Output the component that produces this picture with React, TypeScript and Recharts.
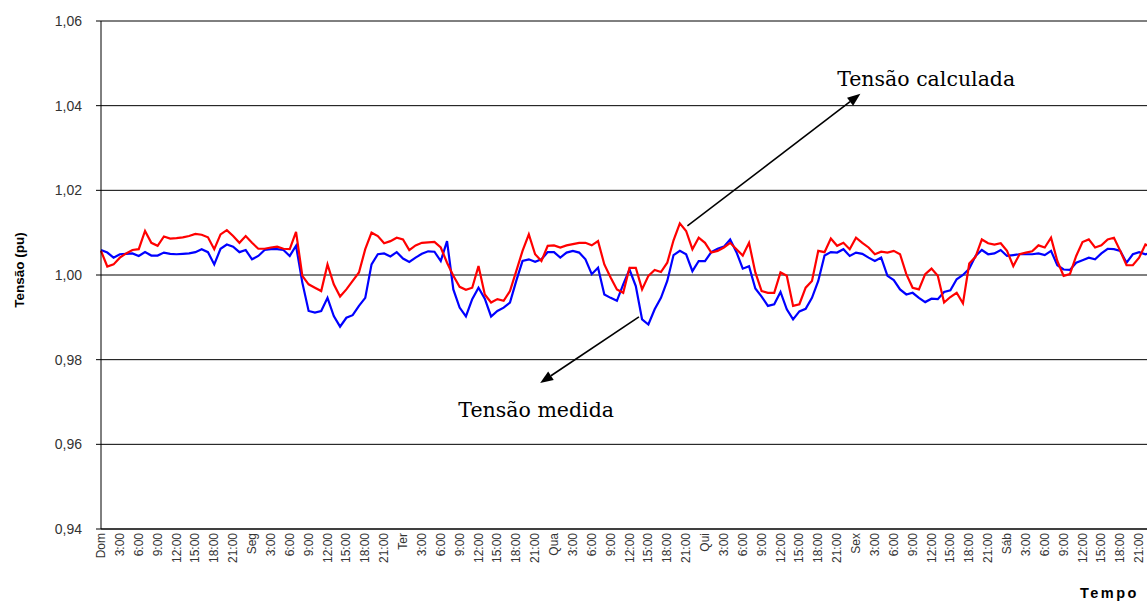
import React from "react";
import { LineChart, Line, XAxis, YAxis, CartesianGrid, ReferenceLine, ReferenceDot } from "recharts";

// hourly samples, Dom 0:00 .. Sáb 23:00
const tensaoMedida = [
  1.0059, 1.0053, 1.0041, 1.0049, 1.005, 1.0051, 1.0045, 1.0054, 1.0046, 1.0046, 1.0053, 1.005,
  1.0049, 1.005, 1.0051, 1.0054, 1.0061, 1.0054, 1.0025, 1.0062, 1.0072, 1.0067, 1.0054, 1.0059,
  1.0037, 1.0045, 1.0059, 1.0061, 1.0061, 1.0059, 1.0045, 1.0069, 0.9982, 0.9915, 0.9911, 0.9915,
  0.9946, 0.9903, 0.9878, 0.9899, 0.9905, 0.9927, 0.9946, 1.0025, 1.0049, 1.0051, 1.0044, 1.0054,
  1.0039, 1.0031, 1.0041, 1.005, 1.0056, 1.0055, 1.0033, 1.008, 0.9966, 0.9923, 0.9902, 0.9943,
  0.997, 0.9944, 0.9902, 0.9915, 0.9923, 0.9935, 0.9986, 1.0033, 1.0037, 1.0031, 1.0037, 1.0054,
  1.0054, 1.0041, 1.0053, 1.0057, 1.0053, 1.0037, 1.0002, 1.0017, 0.9954, 0.9946, 0.9939, 0.9978,
  1.0013, 0.9974, 0.9895, 0.9883, 0.9919, 0.9946, 0.9986, 1.0047, 1.0057, 1.0049, 1.0009, 1.0033,
  1.0033, 1.0054, 1.0062, 1.0067, 1.0084, 1.0054, 1.0015, 1.0021, 0.9968, 0.9949, 0.9927, 0.9931,
  0.996, 0.9919, 0.9895, 0.9914, 0.992, 0.9946, 0.9986, 1.0046, 1.0054, 1.0053, 1.0061, 1.0045,
  1.0053, 1.005, 1.0041, 1.0033, 1.0041, 0.9998, 0.9988, 0.9966, 0.9954, 0.9958, 0.9946, 0.9936,
  0.9944, 0.9943, 0.996, 0.9964, 0.999, 1.0, 1.0015, 1.0045, 1.0059, 1.0049, 1.0051, 1.0059,
  1.0045, 1.0047, 1.0049, 1.0049, 1.0049, 1.0051, 1.0047, 1.0057, 1.0023, 1.0013, 1.0012, 1.0029,
  1.0035, 1.0041, 1.0037, 1.0051, 1.0062, 1.0061, 1.0057, 1.0029, 1.0049, 1.0054, 1.0049, 1.0052,
];

const tensaoCalculada = [
  1.0057, 1.002, 1.0025, 1.0041, 1.0051, 1.0059, 1.0061, 1.0104, 1.0076, 1.0069, 1.0091, 1.0086,
  1.0087, 1.0089, 1.0092, 1.0097, 1.0095, 1.0089, 1.0061, 1.0096, 1.0106, 1.0092, 1.0076, 1.0092,
  1.0076, 1.0062, 1.0062, 1.0065, 1.0067, 1.0062, 1.0061, 1.0102, 0.9998, 0.9978, 0.997, 0.9962,
  1.0025, 0.9978, 0.9949, 0.9966, 0.9986, 1.0006, 1.0061, 1.01, 1.0092, 1.0075, 1.008, 1.0088,
  1.0084, 1.0059, 1.007, 1.0076, 1.0077, 1.0078, 1.0065, 1.0029, 0.9998, 0.9972, 0.9965, 0.997,
  1.0021, 0.9954, 0.9935, 0.9943, 0.9939, 0.9962, 1.0009, 1.0057, 1.0096, 1.0049, 1.0033, 1.0069,
  1.007, 1.0065, 1.007, 1.0073, 1.0076, 1.0076, 1.007, 1.008, 1.0025, 0.9994, 0.9966, 0.9958,
  1.0017, 1.0017, 0.9966, 0.9998, 1.0012, 1.0007, 1.0029, 1.0082, 1.0122, 1.0104, 1.0061, 1.0088,
  1.0076, 1.0053, 1.0057, 1.0065, 1.0076, 1.0061, 1.0046, 1.0076, 1.0006, 0.9962, 0.9958, 0.9958,
  1.0006, 0.9998, 0.9927, 0.9931, 0.997, 0.9986, 1.0057, 1.0054, 1.0086, 1.0069, 1.0076, 1.0061,
  1.0088, 1.0076, 1.0065, 1.0049, 1.0055, 1.0053, 1.0057, 1.0049, 1.0002, 0.997, 0.9966, 1.0002,
  1.0015, 0.9998, 0.9935, 0.9948, 0.9958, 0.9933, 1.0027, 1.0043, 1.0084, 1.0075, 1.0072, 1.0075,
  1.0057, 1.0021, 1.0049, 1.0053, 1.0056, 1.007, 1.0065, 1.0088, 1.0033, 0.9998, 1.0002, 1.0045,
  1.0078, 1.0084, 1.0065, 1.007, 1.0084, 1.0088, 1.0057, 1.0023, 1.0023, 1.0041, 1.0072, 1.0065,
];

const dias = ["Dom", "Seg", "Ter", "Qua", "Qui", "Sex", "Sáb"];
const horas = ["", "3:00", "6:00", "9:00", "12:00", "15:00", "18:00", "21:00"];
const yTicks = [0.94, 0.96, 0.98, 1.0, 1.02, 1.04, 1.06];

const xTicks: number[] = [];
const xLabels: Record<number, string> = {};
dias.forEach((d, di) =>
  horas.forEach((h, hi) => {
    const t = di * 24 + hi * 3;
    xTicks.push(t);
    xLabels[t] = hi === 0 ? d : h;
  })
);

const data = tensaoMedida.map((v, i) => ({ t: i, medida: v, calculada: tensaoCalculada[i] }));

const XTick = ({ x, y, payload }: any) => (
  <text
    x={x}
    y={y}
    transform={`rotate(-90, ${x}, ${y})`}
    textAnchor="end"
    dominantBaseline="central"
    fontSize={12}
    fontFamily="Liberation Sans, Arial, sans-serif"
    fill="#333"
  >
    {xLabels[payload.value]}
  </text>
);

const YTitle = ({ viewBox }: any) => {
  const cx = viewBox.x + 19;
  const cy = viewBox.y + viewBox.height / 2 - 5;
  return (
    <text
      x={cx}
      y={cy}
      transform={`rotate(-90, ${cx}, ${cy})`}
      textAnchor="middle"
      dominantBaseline="central"
      fontSize={13.5}
      fontWeight="bold"
      fontFamily="Liberation Sans, Arial, sans-serif"
      fill="#000"
    >
      Tensão (pu)
    </text>
  );
};

const XTitle = ({ viewBox }: any) => (
  <text
    x={viewBox.x + 979}
    y={viewBox.y + 69}
    fontSize={14.5}
    fontWeight="bold"
    letterSpacing={2.5}
    fontFamily="Liberation Sans, Arial, sans-serif"
    fill="#000"
  >
    Tempo
  </text>
);

const Arrow = ({ x1, y1, x2, y2 }: any) => {
  const a = Math.atan2(y2 - y1, x2 - x1);
  const len = 13;
  const w = 5;
  const bx = x2 - len * Math.cos(a);
  const by = y2 - len * Math.sin(a);
  const px = -Math.sin(a) * w;
  const py = Math.cos(a) * w;
  return (
    <g>
      <line x1={x1} y1={y1} x2={bx} y2={by} stroke="#000" strokeWidth={1.6} />
      <polygon points={`${x2},${y2} ${bx + px},${by + py} ${bx - px},${by - py}`} fill="#000" />
    </g>
  );
};

const Note = (text: string) => ({ cx, cy }: any) => (
  <text x={cx} y={cy} fontSize={20.5} fontFamily="DejaVu Serif, serif" fill="#000">
    {text}
  </text>
);

export default function App() {
  return (
    <div style={{ position: "absolute", left: 0, top: 0, width: 1147, height: 601, overflow: "hidden", background: "#fff" }}>
      <LineChart width={1170} height={601} data={data} margin={{ top: 21, right: 12, bottom: 0, left: 0 }}>
        <CartesianGrid vertical={false} stroke="#000" strokeWidth={1} />
        <XAxis
          dataKey="t"
          type="number"
          domain={[0, 168]}
          ticks={xTicks}
          interval={0}
          tick={<XTick />}
          tickLine={false}
          tickSize={0}
          tickMargin={4}
          height={72}
          axisLine={{ stroke: "#000" }}
          label={<XTitle />}
        />
        <YAxis
          type="number"
          domain={[0.94, 1.06]}
          ticks={yTicks}
          interval={0}
          width={101}
          tickSize={5}
          tickMargin={14}
          axisLine={{ stroke: "#000" }}
          tickLine={{ stroke: "#000" }}
          tick={{ fontSize: 14, fill: "#333", fontFamily: "Liberation Sans, Arial, sans-serif" }}
          tickFormatter={(v: number) => v.toFixed(2).replace(".", ",")}
          label={<YTitle />}
        />
        <Line dataKey="medida" type="linear" stroke="#0000FF" strokeWidth={2.2} dot={false} isAnimationActive={false} />
        <Line dataKey="calculada" type="linear" stroke="#FF0000" strokeWidth={2.2} dot={false} isAnimationActive={false} />
        <ReferenceLine segment={[{ x: 93.2, y: 1.0116 }, { x: 120.7, y: 1.0428 }]} shape={<Arrow />} />
        <ReferenceLine segment={[{ x: 85.5, y: 0.9901 }, { x: 69.8, y: 0.9745 }]} shape={<Arrow />} />
        <ReferenceDot x={117.0} y={1.0446} shape={Note("Tensão calculada")} />
        <ReferenceDot x={56.8} y={0.9665} shape={Note("Tensão medida")} />
      </LineChart>
    </div>
  );
}
